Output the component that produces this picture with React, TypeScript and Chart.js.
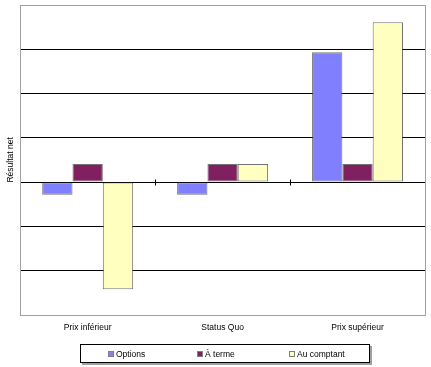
import React, { useEffect, useRef } from "react";
import { Chart, registerables } from "chart.js";

Chart.register(...registerables);

const categories = ["Prix inférieur", "Status Quo", "Prix supérieur"];
const seriesNames = ["Options", "À terme", "Au comptant"];
const optionsValues = [-0.29, -0.29, 2.93];
const termeValues = [0.41, 0.41, 0.41];
const comptantValues = [-2.42, 0.41, 3.61];
const seriesColors = ["#8080FF", "#802060", "#FFFFC0"];
const yTitle = "Résultat net";

const FONT = "'Liberation Sans', Arial, sans-serif";

const framePlugin = {
  id: "frame",
  afterDraw(chart: any) {
    const { ctx, chartArea } = chart;
    const x = chart.scales.x;
    const y = chart.scales.y;
    ctx.save();
    const y0 = Math.round(y.getPixelForValue(0)) + 0.5;
    ctx.strokeStyle = "#000";
    ctx.lineWidth = 1;
    ctx.beginPath();
    const n = categories.length;
    for (let i = 0; i <= n; i++) {
      let px: number;
      if (i === 0) px = chartArea.left;
      else if (i === n) px = chartArea.right;
      else px = (x.getPixelForValue(i - 1) + x.getPixelForValue(i)) / 2;
      px = Math.round(px) + 0.5;
      ctx.moveTo(px, y0 - 3);
      ctx.lineTo(px, y0 + 3);
    }
    ctx.stroke();
    ctx.strokeStyle = "#a0a0a0";
    ctx.strokeRect(
      Math.round(chartArea.left) + 0.5,
      Math.round(chartArea.top) + 0.5,
      Math.round(chartArea.right - chartArea.left),
      Math.round(chartArea.bottom - chartArea.top)
    );
    ctx.restore();
  },
};

export default function App() {
  const ref = useRef<HTMLCanvasElement>(null);
  useEffect(() => {
    document.body.style.margin = "0";
    const canvas = ref.current!;
    const values = [optionsValues, termeValues, comptantValues];
    const chart = new Chart(canvas, {
      type: "bar",
      data: {
        labels: categories,
        datasets: seriesNames.map((name, i) => ({
          label: name,
          data: values[i],
          backgroundColor: seriesColors[i],
          borderColor: "rgba(70,70,70,0.75)",
          borderWidth: 1,
          borderSkipped: false,
          categoryPercentage: 0.674,
          barPercentage: 1,
        })),
      },
      options: {
        responsive: false,
        animation: false,
        devicePixelRatio: 1,
        layout: { padding: { left: 2, right: 6, top: 5, bottom: 26 } },
        plugins: {
          legend: { display: false },
          tooltip: { enabled: false },
        },
        scales: {
          x: {
            grid: { display: false, drawTicks: false },
            border: { display: false },
            ticks: {
              padding: 8,
              color: "#000",
              font: { family: FONT, size: 8.5 },
              maxRotation: 0,
            },
          },
          y: {
            min: -3,
            max: 4,
            ticks: { display: false, stepSize: 1 },
            border: { display: false },
            grid: {
              drawTicks: false,
              color: (c: any) =>
                c.tick && (c.tick.value === 4 || c.tick.value === -3)
                  ? "rgba(0,0,0,0)"
                  : "#000",
              lineWidth: 1,
            },
            title: {
              display: true,
              text: yTitle,
              color: "#000",
              font: { family: FONT, size: 8.5 },
              padding: { top: 4, bottom: 4 },
            },
          },
        },
      },
      plugins: [framePlugin],
    });
    return () => chart.destroy();
  }, []);

  const legendX = [108, 197, 289];
  return (
    <div style={{ position: "relative", width: 431, height: 367, fontFamily: FONT }}>
      <canvas ref={ref} width={431} height={367} style={{ display: "block" }} />
      <div
        style={{
          position: "absolute",
          left: 80,
          top: 344,
          width: 288,
          height: 17,
          border: "1px solid #000",
          boxShadow: "2px 2px 0 #a0a0a0",
          background: "#fff",
        }}
      >
        {seriesNames.map((name, i) => (
          <div
            key={name}
            style={{
              position: "absolute",
              left: legendX[i] - 81,
              top: 3,
              height: 11,
              display: "flex",
              alignItems: "center",
              fontSize: 8.5,
              color: "#000",
              whiteSpace: "nowrap",
            }}
          >
            <span
              style={{
                display: "inline-block",
                width: 4,
                height: 4,
                background: seriesColors[i],
                border: "1px solid #808080",
                marginRight: 2,
              }}
            />
            {name}
          </div>
        ))}
      </div>
    </div>
  );
}
